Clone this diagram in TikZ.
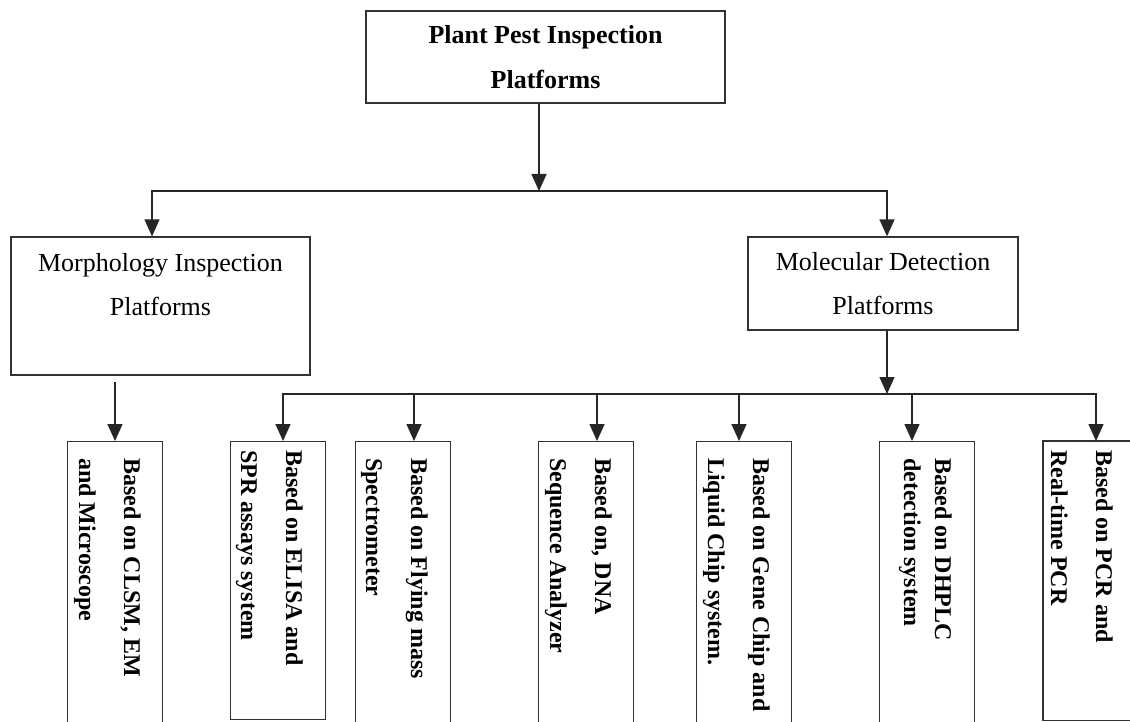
\documentclass[tikz,border=0pt]{standalone}
\usepackage{fontspec}
\setmainfont{Liberation Serif}
\usetikzlibrary{arrows.meta}
\begin{document}
\begin{tikzpicture}[x=1pt,y=-1pt,
  box/.style={draw=black!80, line width=1.3pt, inner sep=0pt},
  edge/.style={draw=black!80, line width=1.3pt},
  ln/.style={line width=1.5pt, draw=black!85, line cap=rect},
  arr/.style={line width=1.5pt, draw=black!85, -{Triangle[length=17pt,width=15pt]}},
  toptext/.style={font=\fontsize{26}{45}\selectfont\bfseries, align=center},
  midtext/.style={font=\fontsize{26}{44}\selectfont, align=center},
  vtext/.style={font=\fontsize{24}{45}\selectfont\bfseries, align=left, rotate=-90, anchor=north west, inner sep=0pt},
  leaf/.style={box, minimum width=95pt, anchor=north west}]
\useasboundingbox (0,0) rectangle (1130,722);
\clip (0,0) rectangle (1130,722);

% level 0
\node[box, minimum width=359pt, minimum height=92pt, toptext] (top) at (545.5,57) {Plant Pest Inspection\\Platforms};

% level 1
\node[box, minimum width=299pt, minimum height=138pt] (morph) at (160.5,306) {};
\node[midtext] (morphT) at (160.5,285) {Morphology Inspection\\Platforms};
\node[box, minimum width=270pt, minimum height=93pt, midtext] (mol) at (883,283.5) {Molecular Detection\\Platforms};

% level 2 boxes
\node[leaf, minimum height=283pt] (l1) at (67,441) {};
\node[leaf, minimum height=278pt] (l2) at (230,441) {};
\node[leaf, minimum height=283pt] (l3) at (355,441) {};
\node[leaf, minimum height=283pt] (l4) at (538,441) {};
\node[leaf, minimum height=283pt] (l5) at (696,441) {};
\node[leaf, minimum height=283pt] (l6) at (879,441) {};
\node[leaf, draw=none, minimum height=278pt, minimum width=120pt] (l7) at (1043,441) {};
\draw[edge] (l7.north east) -- (l7.north west) -- (l7.south west) -- (l7.south east);

% level 2 texts
\node[vtext] (t1) at (141,458) {Based on CLSM, EM\\and Microscope};
\node[vtext] (t2) at (303,450) {Based on ELISA and\\SPR assays system};
\node[vtext] (t3) at (428,458) {Based on Flying mass\\Spectrometer};
\node[vtext] (t4) at (612,458) {Based on, DNA\\Sequence Analyzer};
\node[vtext] (t5) at (770,458) {Based on Gene Chip and\\Liquid Chip system.};
\node[vtext, font=\fontsize{24}{31}\selectfont\bfseries] (t6) at (952,458) {Based on DHPLC\\detection system};
\node[vtext] (t7) at (1113,450) {Based on PCR and\\Real-time PCR};

% connectors level 0 -> 1
\coordinate (j1) at (539,191);
\coordinate (bL) at (152,191);
\coordinate (bR) at (887,191);
\draw[arr] (top.south -| j1) -- (j1);
\draw[ln] (bL) -- (bR);
\draw[arr] (bL) -- (bL |- morph.north);
\draw[arr] (bR) -- (bR |- mol.north);

% connectors level 1 -> 2
\coordinate (m1) at (115,382);
\draw[arr] (m1) -- (m1 |- l1.north);

\coordinate (j2) at (887,394);
\draw[arr] (mol.south -| j2) -- (j2);
\coordinate (c2) at (283,394);
\coordinate (c3) at (414,394);
\coordinate (c4) at (597,394);
\coordinate (c5) at (739,394);
\coordinate (c6) at (912,394);
\coordinate (c7) at (1096,394);
\draw[ln] (c2) -- (c7);
\draw[arr] (c2) -- (c2 |- l2.north);
\draw[arr] (c3) -- (c3 |- l3.north);
\draw[arr] (c4) -- (c4 |- l4.north);
\draw[arr] (c5) -- (c5 |- l5.north);
\draw[arr] (c6) -- (c6 |- l6.north);
\draw[arr] (c7) -- (c7 |- l7.north);
\end{tikzpicture}
\end{document}
